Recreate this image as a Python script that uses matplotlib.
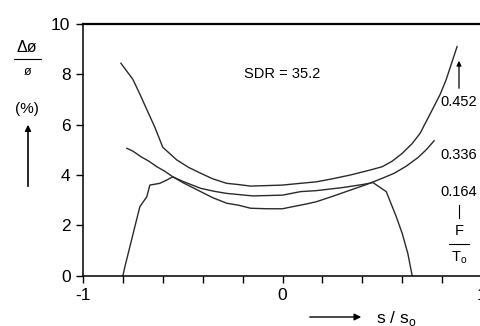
import numpy as np
import matplotlib.pyplot as plt

plt.rcParams['font.family'] = ['Liberation Sans', 'DejaVu Sans']

# ── Дані ───────────────────────────────────────────────────
s_452 = [-0.81, -0.75, -0.72, -0.68, -0.64, -0.60, -0.53, -0.47, -0.41, -0.35,
         -0.28, -0.22, -0.16, -0.08, 0.0, 0.09, 0.17, 0.25, 0.34, 0.44,
         0.50, 0.55, 0.60, 0.65, 0.69, 0.75, 0.79, 0.82, 0.85, 0.875]
d_452 = [8.44, 7.80, 7.30, 6.60, 5.90, 5.10, 4.60, 4.30, 4.07, 3.85,
         3.67, 3.62, 3.56, 3.58, 3.60, 3.67, 3.73, 3.85, 4.00, 4.20,
         4.33, 4.55, 4.86, 5.25, 5.66, 6.58, 7.20, 7.78, 8.50, 9.10]

s_336 = [-0.78, -0.75, -0.71, -0.67, -0.63, -0.59, -0.55, -0.50, -0.45, -0.40,
         -0.35, -0.28, -0.22, -0.16, -0.08, 0.0, 0.05, 0.12, 0.17, 0.25,
         0.34, 0.42, 0.50, 0.56, 0.62, 0.68, 0.72, 0.76]
d_336 = [5.06, 4.95, 4.73, 4.55, 4.33, 4.15, 3.93, 3.70, 3.50, 3.30,
         3.10, 2.88, 2.80, 2.68, 2.66, 2.66, 2.74, 2.85, 2.94, 3.15,
         3.40, 3.62, 3.87, 4.07, 4.35, 4.70, 5.00, 5.36]

s_164 = [-0.80, -0.79, -0.765, -0.74, -0.715, -0.68, -0.665, -0.615, -0.58, -0.55,
         -0.50, -0.41, -0.34, -0.28, -0.15, 0.0, 0.09, 0.17, 0.30, 0.40,
         0.453, 0.52, 0.57, 0.60, 0.628, 0.65]
d_164 = [0.0, 0.36, 1.15, 1.95, 2.74, 3.14, 3.60, 3.67, 3.80, 3.93,
         3.75, 3.47, 3.35, 3.27, 3.17, 3.20, 3.34, 3.38, 3.50, 3.62,
         3.70, 3.34, 2.35, 1.68, 0.89, 0.0]

x_ticks = [-1.0, -0.8, -0.6, -0.4, -0.2, 0.0, 0.2, 0.4, 0.6, 0.8, 1.0]
x_tick_labels = ['-1', '', '', '', '', '0', '', '', '', '', '1']
y_ticks = [0, 2, 4, 6, 8, 10]

W, H = 480, 326


def px(x, y):
    return x / W, 1 - y / H


fig = plt.figure(figsize=(W / 100, H / 100), dpi=100)
ax = fig.add_axes([83 / W, 50.3 / H, 399 / W, 251.7 / H])

for s, d in [(s_452, d_452), (s_336, d_336), (s_164, d_164)]:
    ax.plot(s, d, color='#2a2a2a', lw=1.0)

ax.set_xlim(-1, 1)
ax.set_ylim(0, 10)
ax.set_xticks(x_ticks)
ax.set_xticklabels(x_tick_labels)
ax.set_yticks(y_ticks)
ax.tick_params(direction='out', length=5, width=1, labelsize=12.5, pad=4,
               colors='black')
ax.spines['right'].set_visible(False)
for sp in ['left', 'bottom', 'top']:
    ax.spines[sp].set_linewidth(1.1)
ax.spines['top'].set_linewidth(1.6)

ax.text(0.0, 8.0, 'SDR = 35.2', ha='center', va='center', fontsize=10.5)

# ── Підпис осі Y ───────────────────────────────────────────
fig.text(*px(27, 47), 'Δø', ha='center', va='center', fontsize=11.5)
fig.add_artist(plt.Line2D([14 / W, 41 / W], [1 - 59 / H, 1 - 59 / H],
                          color='black', lw=0.8, transform=fig.transFigure))
fig.text(*px(28, 72), 'ø', ha='center', va='center', fontsize=9)
fig.text(*px(27, 109), '(%)', ha='center', va='center', fontsize=11)
fig.add_artist(plt.Line2D([28 / W, 28 / W], [1 - 186 / H, 1 - 128 / H],
                          color='black', lw=1.2, transform=fig.transFigure))
ax.annotate('', xy=px(28, 122), xytext=px(28, 132), xycoords='figure fraction',
            textcoords='figure fraction',
            arrowprops=dict(arrowstyle='-|>', color='black', lw=1.0,
                            mutation_scale=9))

# ── Підписи кривих справа ─────────────────────────────────
fig.text(*px(459, 102), '0.452', ha='center', va='center', fontsize=10.5)
fig.text(*px(459, 155), '0.336', ha='center', va='center', fontsize=10.5)
fig.text(*px(459, 192), '0.164', ha='center', va='center', fontsize=10.5)
ax.annotate('', xy=px(459, 58), xytext=px(459, 91), xycoords='figure fraction',
            textcoords='figure fraction',
            arrowprops=dict(arrowstyle='-|>', color='black', lw=0.9,
                            mutation_scale=7))
fig.add_artist(plt.Line2D([459 / W, 459 / W], [1 - 205 / H, 1 - 218 / H],
                          color='black', lw=0.8, transform=fig.transFigure))
fig.text(*px(459, 231), 'F', ha='center', va='center', fontsize=10.5)
fig.add_artist(plt.Line2D([449 / W, 469 / W], [1 - 244 / H, 1 - 244 / H],
                          color='black', lw=0.8, transform=fig.transFigure))
fig.text(*px(459, 258), r'T$_\mathregular{o}$', ha='center', va='center',
         fontsize=10.5)

# ── Підпис осі X ───────────────────────────────────────────
ax.annotate('', xy=px(364, 317), xytext=px(307, 317), xycoords='figure fraction',
            textcoords='figure fraction',
            arrowprops=dict(arrowstyle='-|>', color='black', lw=1.0,
                            mutation_scale=10))
fig.text(*px(376, 318), r's / s$_\mathregular{o}$', ha='left', va='center',
         fontsize=12.5)

fig.savefig('out.png', dpi=100)
